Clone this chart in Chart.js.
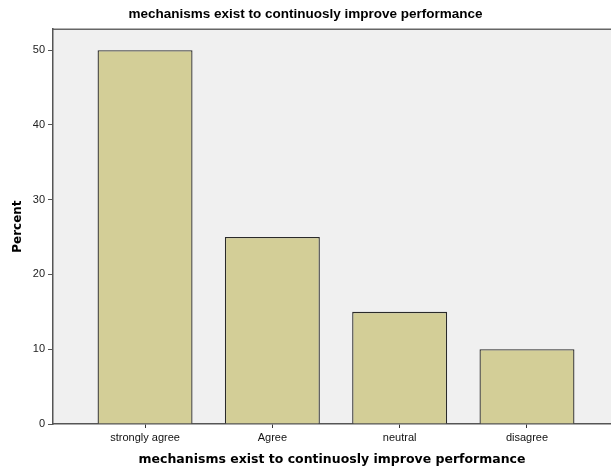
<!DOCTYPE html>
<html>
<head>
<meta charset="utf-8">
<script src="https://cdn.jsdelivr.net/npm/chart.js@4/dist/chart.umd.min.js"></script>
<style>
  body { margin: 0; background: #fff; overflow: hidden; }
</style>
</head>
<body>
<canvas id="bars" width="611" height="472"></canvas>
<script>
const categorias = ["strongly agree", "Agree", "neutral", "disagree"];
const porcentajes = [50, 25, 15, 10];
const titulo = "mechanisms exist to continuosly improve performance";
const marcasY = [0, 10, 20, 30, 40, 50];

const fondo = {
  id: "fondo",
  beforeDraw(chart) {
    const { ctx, chartArea: a } = chart;
    ctx.save();
    ctx.fillStyle = "#F0F0F0";
    ctx.fillRect(a.left, a.top, a.right - a.left, a.bottom - a.top);
    ctx.strokeStyle = "#666";
    ctx.lineWidth = 1.5;
    ctx.beginPath();
    ctx.moveTo(a.left, a.top);
    ctx.lineTo(a.right, a.top);
    ctx.stroke();
    ctx.restore();
  },
};

function grafico_barras() {
  const ctx = document.getElementById("bars");
  const puntos = porcentajes.map((v, i) => ({ x: i, y: v }));

  new Chart(ctx, {
    type: "bar",
    data: {
      datasets: [
        {
          label: "Percent",
          data: puntos,
          backgroundColor: "#D3CE97",
          borderColor: "#2a2a2a",
          borderWidth: 1.3,
          barPercentage: 0.746,
          categoryPercentage: 1,
        },
      ],
    },
    options: {
      responsive: false,
      animation: false,
      layout: { padding: 0 },
      plugins: {
        legend: { display: false },
        tooltip: { enabled: false },
        title: {
          display: true,
          text: titulo,
          color: "#000",
          font: { family: "Liberation Sans", size: 13.5, weight: "bold" },
          padding: { top: 6, bottom: 7 },
        },
      },
      scales: {
        x: {
          type: "linear",
          min: -0.723,
          max: 3.66,
          offset: false,
          afterBuildTicks: (s) => {
            s.ticks = categorias.map((c, i) => ({ value: i }));
          },
          afterFit: (s) => { s.height = 48; },
          ticks: {
            autoSkip: false,
            maxRotation: 0,
            padding: 3,
            color: "#111",
            font: { family: "Liberation Sans", size: 11 },
            callback: (v) => categorias[v],
          },
          grid: { offset: false, drawOnChartArea: false, tickLength: 4, color: "#333" },
          border: { display: true, color: "#555", width: 1.5 },
          title: {
            display: true,
            text: titulo,
            color: "#000",
            font: { family: "DejaVu Sans", size: 12.5, weight: "bold" },
            padding: { top: 0, bottom: 5 },
          },
        },
        y: {
          min: 0,
          max: 52.8,
          afterBuildTicks: (s) => {
            s.ticks = marcasY.map((v) => ({ value: v }));
          },
          afterFit: (s) => { s.width = 53; },
          ticks: {
            padding: 3,
            color: "#222",
            font: { family: "Liberation Sans", size: 11 },
          },
          grid: { drawOnChartArea: false, tickLength: 5, color: "#555" },
          border: { display: true, color: "#555", width: 1.5 },
          title: {
            display: true,
            text: "Percent",
            color: "#000",
            font: { family: "DejaVu Sans", size: 12, weight: "bold" },
            padding: { top: 11, bottom: 0 },
          },
        },
      },
    },
    plugins: [fondo],
  });
}

grafico_barras();
</script>
</body>
</html>
